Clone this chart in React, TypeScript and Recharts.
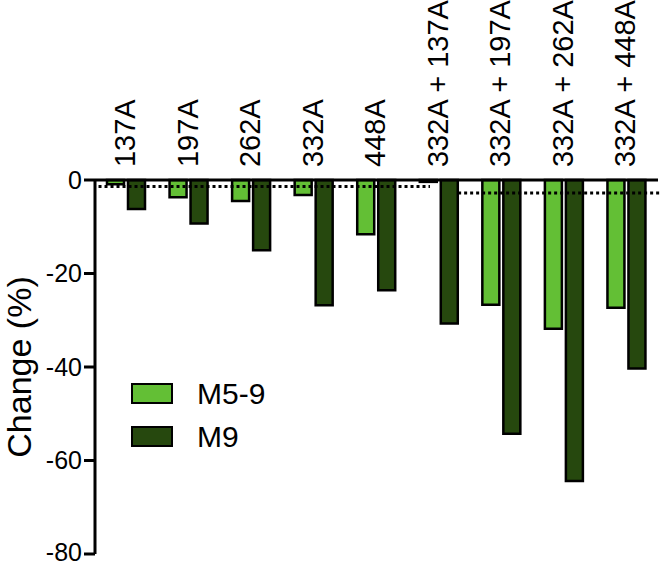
import {
  BarChart,
  Bar,
  XAxis,
  YAxis,
  ReferenceLine,
  Legend,
} from "recharts";

const categories = [
  "137A",
  "197A",
  "262A",
  "332A",
  "448A",
  "332A + 137A",
  "332A + 197A",
  "332A + 262A",
  "332A + 448A",
];
const m59 = [-0.9, -3.7, -4.5, -3.2, -11.6, -0.4, -26.7, -31.8, -27.3];
const m9 = [-6.2, -9.3, -15.0, -26.8, -23.6, -30.7, -54.3, -64.4, -40.3];
const yTicks = [0, -20, -40, -60, -80];

// dotted baselines: single mutants, then double mutants
const singleBase = -1.4;
const doubleBase = -2.8;

const LIGHT = "#63bf35";
const DARK = "#26480e";
const FONT = "'Liberation Sans', Arial, sans-serif";

const data = categories.map((name, i) => ({ name, m59: m59[i], m9: m9[i] }));

function TopTick({ x, y, payload }: any) {
  return (
    <text
      x={x}
      y={y}
      transform={`rotate(-90, ${x}, ${y})`}
      textAnchor="start"
      dy="0.3em"
      fontSize={29}
      fontFamily={FONT}
      fill="#000"
    >
      {payload.value}
    </text>
  );
}

function YLabel({ viewBox }: any) {
  const cx = viewBox.x + 21;
  const cy = viewBox.y + viewBox.height / 2;
  return (
    <text
      x={cx}
      y={cy}
      transform={`rotate(-90, ${cx}, ${cy})`}
      textAnchor="middle"
      dy="0.3em"
      fontSize={34}
      fontFamily={FONT}
      fill="#000"
    >
      Change (%)
    </text>
  );
}

function LegendBox({ payload }: any) {
  return (
    <div style={{ fontFamily: FONT }}>
      {(payload || []).map((p: any) => (
        <div
          key={p.value}
          style={{ display: "flex", alignItems: "center", height: 43 }}
        >
          <div
            style={{
              width: 38,
              height: 17,
              background: p.color,
              border: "2px solid #000",
            }}
          />
          <span style={{ marginLeft: 24, fontSize: 30, color: "#000" }}>
            {p.value}
          </span>
        </div>
      ))}
    </div>
  );
}

export default function App() {
  return (
    <div style={{ position: "absolute", left: 0, top: 0 }}>
      <BarChart
        width={662}
        height={566}
        data={data}
        margin={{ top: 0, right: 4, bottom: 12, left: 0 }}
        barSize={17}
        barGap={4}
      >
        <XAxis
          xAxisId="cat"
          dataKey="name"
          orientation="top"
          height={180}
          tickLine={false}
          tickSize={0}
          tickMargin={13}
          axisLine={{ stroke: "#000", strokeWidth: 3 }}
          tick={<TopTick />}
          interval={0}
        />
        <XAxis xAxisId="num" type="number" domain={[0, 9]} hide />
        <YAxis
          domain={[-80, 0]}
          ticks={yTicks}
          width={95}
          tickSize={11}
          tickMargin={2}
          axisLine={{ stroke: "#000", strokeWidth: 3 }}
          tickLine={{ stroke: "#000", strokeWidth: 3 }}
          tick={{ fill: "#000", fontSize: 25, fontFamily: FONT }}
          label={<YLabel />}
        />
        <Legend
          layout="vertical"
          align="center"
          verticalAlign="middle"
          wrapperStyle={{ left: 131, top: 372, width: 200 }}
          content={<LegendBox />}
        />
        <Bar
          xAxisId="cat"
          dataKey="m59"
          name="M5-9"
          fill={LIGHT}
          stroke="#000"
          strokeWidth={2.5}
          isAnimationActive={false}
        />
        <Bar
          xAxisId="cat"
          dataKey="m9"
          name="M9"
          fill={DARK}
          stroke="#000"
          strokeWidth={2.5}
          isAnimationActive={false}
        />
        <ReferenceLine
          xAxisId="num"
          segment={[
            { x: 0.05, y: singleBase },
            { x: 4.76, y: singleBase },
          ]}
          stroke="#000"
          strokeWidth={3}
          strokeDasharray="3 3"
          ifOverflow="visible"
        />
        <ReferenceLine
          xAxisId="num"
          segment={[
            { x: 5.16, y: doubleBase },
            { x: 9.04, y: doubleBase },
          ]}
          stroke="#000"
          strokeWidth={3}
          strokeDasharray="3 3"
          ifOverflow="visible"
        />
      </BarChart>
    </div>
  );
}
